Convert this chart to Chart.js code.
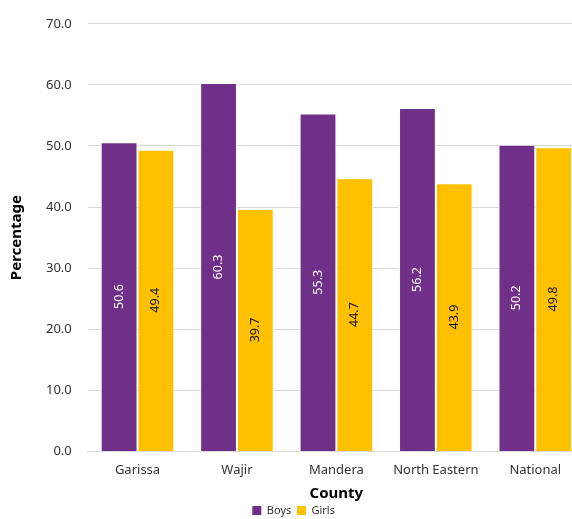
<!DOCTYPE html>
<html>
<head>
<meta charset="utf-8">
<script src="https://cdn.jsdelivr.net/npm/chart.js@4"></script>
<style>
  html, body { margin: 0; padding: 0; overflow: hidden; background: #fff; }
  #wrap { width: 585px; height: 519px; }
</style>
</head>
<body>
<div id="wrap"><canvas id="genderChart"></canvas></div>
<script>
// Enrolment share by county
const counties = ['Garissa', 'Wajir', 'Mandera', 'North Eastern', 'National'];
const boys = [50.6, 60.3, 55.3, 56.2, 50.2];
const girls = [49.4, 39.7, 44.7, 43.9, 49.8];
const yTicks = [0, 10, 20, 30, 40, 50, 60, 70];

const PURPLE = '#70308a';
const GOLD = '#ffc000';
const FONT = "'Noto Sans', 'Open Sans', sans-serif";

// values written sideways inside each bar
const barLabels = {
    id: 'barLabels',
    afterDatasetsDraw(chart) {
        const ctx = chart.ctx;
        chart.data.datasets.forEach((ds, i) => {
            chart.getDatasetMeta(i).data.forEach((bar, j) => {
                const mid = (bar.y + bar.base) / 2;
                ctx.save();
                ctx.translate(bar.x, mid);
                ctx.rotate(-Math.PI / 2);
                ctx.font = '12.5px ' + FONT;
                ctx.fillStyle = ds.labelColor;
                ctx.textAlign = 'center';
                ctx.textBaseline = 'middle';
                ctx.fillText(ds.data[j].toFixed(1), 0, 0);
                ctx.restore();
            });
        });
    }
};

new Chart(document.getElementById('genderChart'), {
    type: 'bar',
    data: {
        labels: counties,
        datasets: [{
            label: 'Boys',
            data: boys,
            backgroundColor: PURPLE,
            borderColor: '#ffffff',
            borderWidth: 1,
            labelColor: '#ffffff'
        }, {
            label: 'Girls',
            data: girls,
            backgroundColor: GOLD,
            borderColor: '#ffffff',
            borderWidth: 1,
            labelColor: '#111111'
        }]
    },
    options: {
        responsive: true,
        maintainAspectRatio: false,
        animation: false,
        layout: { padding: { top: 14, left: 8, right: 0, bottom: -7 } },
        datasets: {
            bar: { categoryPercentage: 0.74, barPercentage: 1 }
        },
        plugins: {
            tooltip: { enabled: false },
            legend: {
                position: 'bottom',
                labels: {
                    boxWidth: 9,
                    boxHeight: 9,
                    padding: 0,
                    color: '#333',
                    font: { family: FONT, size: 11 },
                    generateLabels(chart) {
                        const items = Chart.defaults.plugins.legend.labels.generateLabels(chart);
                        items.forEach(it => { it.text = it.text + '  '; it.lineWidth = 0; });
                        return items;
                    }
                }
            }
        },
        scales: {
            x: {
                grid: { display: false },
                border: { color: '#d9d9d9' },
                ticks: { color: '#333', padding: 3, font: { family: FONT, size: 13 } },
                title: {
                    display: true,
                    text: 'County',
                    color: '#000',
                    padding: { top: 4, bottom: 2 },
                    font: { family: FONT, size: 15, weight: 'bold' }
                }
            },
            y: {
                min: 0,
                max: 70,
                afterBuildTicks(axis) {
                    axis.ticks = yTicks.map(v => ({ value: v }));
                },
                grid: { color: '#d9d9d9', drawTicks: false },
                border: { display: false },
                ticks: {
                    color: '#333',
                    padding: 16,
                    font: { family: FONT, size: 13 },
                    callback: v => v.toFixed(1)
                },
                title: {
                    display: true,
                    text: 'Percentage',
                    color: '#000',
                    padding: { top: 0, bottom: 4 },
                    font: { family: FONT, size: 15, weight: 'bold' }
                }
            }
        }
    },
    plugins: [barLabels]
});
</script>
</body>
</html>
